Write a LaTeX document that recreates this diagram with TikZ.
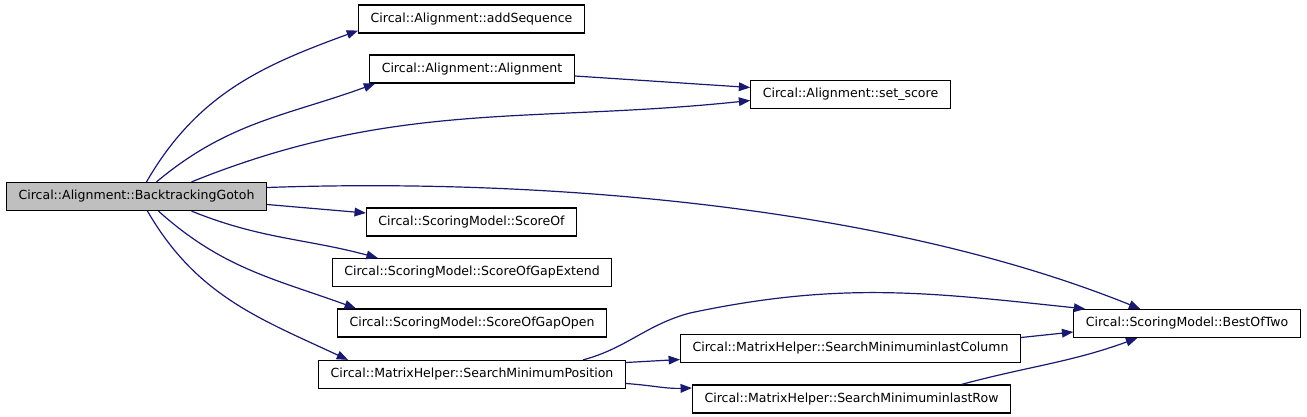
\documentclass[tikz,border=0pt]{standalone}
\usepackage{fontspec}
\setmainfont{DejaVu Sans}
\usepackage{tikz}
\usetikzlibrary{arrows.meta,calc}
\definecolor{callblue}{HTML}{191970}
\definecolor{curgrey}{HTML}{BFBFBF}

\begin{document}
\begin{tikzpicture}[x=0.75pt, y=-0.75pt,
  every node/.style={font=\fontsize{9.4}{11}\selectfont},
  fbox/.style={draw=black, line width=0.9pt, fill=white, inner xsep=9pt,
               inner ysep=0pt, minimum height=21pt},
  call/.style={draw=callblue, line width=0.9pt,
               -{Triangle[length=8.5pt, width=6.5pt]}}]

  \useasboundingbox (0,0) rectangle (1307,417);

  % caller
  \node[fbox, fill=curgrey] (gotoh) at (136.5,196.5) {Circal::Alignment::BacktrackingGotoh};

  % direct callees
  \node[fbox] (addseq)  at (471.5, 19)  {Circal::Alignment::addSequence};
  \node[fbox] (align)   at (472,   69)  {Circal::Alignment::Alignment};
  \node[fbox] (scoreof) at (471.5, 222) {Circal::ScoringModel::ScoreOf};
  \node[fbox] (gapext)  at (472, 272.5) {Circal::ScoringModel::ScoreOfGapExtend};
  \node[fbox] (gapopen) at (472,   323) {Circal::ScoringModel::ScoreOfGapOpen};
  \node[fbox] (minpos)  at (472, 374.5) {Circal::MatrixHelper::SearchMinimumPosition};

  % second level
  \node[fbox] (setscore) at (850.5, 94.5) {Circal::Alignment::set\_score};
  \node[fbox] (lastcol)  at (850.5,348.5) {Circal::MatrixHelper::SearchMinimuminlastColumn};
  \node[fbox] (lastrow)  at (851.5, 399)  {Circal::MatrixHelper::SearchMinimuminlastRow};
  \node[fbox] (bestoftwo) at (1187, 323.5) {Circal::ScoringModel::BestOfTwo};

  \coordinate (bend) at (690,313);

  % calls from BacktrackingGotoh
  \draw[call] ($(gotoh.north)+(10,0)$) to[out=60, in=200] ($(addseq.south west)+(0,-3)$);
  \draw[call] ($(gotoh.north)+(20,0)$) to[out=40, in=200] ($(align.south west)+(6,0)$);
  \draw[call] ($(gotoh.north)+(55,0)$) to[out=22, in=186] ($(setscore.west)+(0,6)$);
  \draw[call] ($(gotoh.east)+(0,-9)$) to[out=2, in=158, looseness=0.8] ($(bestoftwo.north west)+(67,0)$);
  \draw[call] ($(gotoh.east)+(0,8)$) -- ($(scoreof.west)+(0,-9)$);
  \draw[call] ($(gotoh.south)+(55,0)$) to[out=-22, in=165] ($(gapext.north west)+(46,0)$);
  \draw[call] ($(gotoh.south)+(22,0)$) to[out=-42, in=160] ($(gapopen.north west)+(19,0)$);
  \draw[call] ($(gotoh.south)+(11,0)$) to[out=-60, in=155] ($(minpos.north west)+(30,0)$);

  % further calls
  \draw[call] ($(align.east)+(0,7)$) -- ($(setscore.west)+(0,-7)$);
  \draw[call] ($(minpos.north)+(111,0)$) to[out=15, in=195] (bend)
    to[out=12, in=174] ($(bestoftwo.north west)+(12,0)$);
  \draw[call] ($(minpos.east)+(0,-12)$) -- ($(lastcol.west)+(0,11)$);
  \draw[call] ($(minpos.east)+(0,9)$) to[out=-4, in=182] ($(lastrow.west)+(0,-11)$);
  \draw[call] ($(lastcol.east)+(0,-11)$) -- ($(bestoftwo.west)+(0,8.5)$);
  \draw[call] ($(lastrow.north)+(110,0)$) to[out=15, in=200] ($(bestoftwo.south west)+(64,0)$);
\end{tikzpicture}
\end{document}
